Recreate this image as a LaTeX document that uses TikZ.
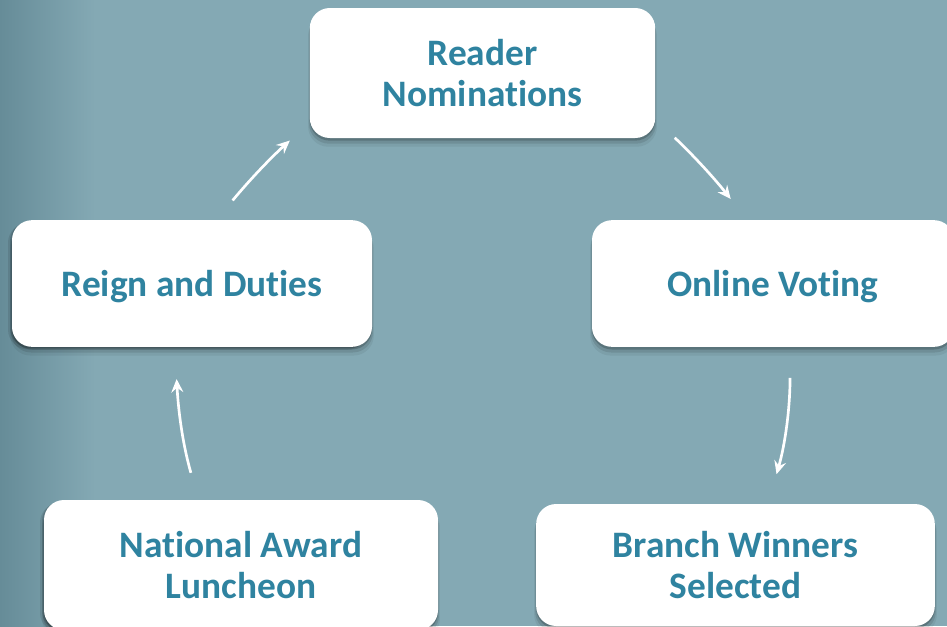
\documentclass[tikz,border=0pt]{standalone}
\usepackage{fontspec}
\setmainfont{Carlito}[Ligatures=NoCommon]
\usetikzlibrary{arrows.meta,shadows}
\definecolor{bgteal}{HTML}{84A9B4}
\definecolor{bgdark}{HTML}{668C98}
\definecolor{labelteal}{HTML}{2F83A0}
\tikzset{
	award/.style={rectangle,fill=white,rounded corners=15pt,align=center,text=labelteal,
		font=\fontsize{28}{30.75}\selectfont\bfseries,
		general shadow={fill=black,opacity=0.06,shadow xshift=0pt,shadow yshift=-6pt,shadow scale=1.01},
		general shadow={fill=black,opacity=0.10,shadow xshift=0pt,shadow yshift=-4pt,shadow scale=1.005},
		general shadow={fill=black,opacity=0.18,shadow xshift=0pt,shadow yshift=-2pt}},
	awardleft/.style={general shadow={fill=black,opacity=0.10,shadow xshift=-3pt,shadow yshift=-2pt},
		general shadow={fill=black,opacity=0.14,shadow xshift=-1.5pt,shadow yshift=-1pt},award},
	flow/.style={-{Stealth[length=10pt,width=9pt,inset=3.5pt]},draw=white,line width=2pt}
}
\begin{document}
\begin{tikzpicture}[x=0.75pt,y=-0.75pt]
	\useasboundingbox (0,0) rectangle (947,626);
	\clip (0,0) rectangle (947,626);
	\fill[bgteal] (0,0) rectangle (947,626);
	\shade[left color=bgdark,right color=bgteal] (0,0) rectangle (95,626);
	\node [award,minimum width=259pt,minimum height=97.5pt] (reader) at (482.5,73) {Reader\\Nominations};
	\node [awardleft,text depth=0pt,minimum width=270pt,minimum height=95pt] (reign) at (192,283.5) {Reign and Duties};
	\node [award,text depth=0pt,minimum width=271.5pt,minimum height=95pt] (voting) at (773,283.5) {Online Voting};
	\node [awardleft,minimum width=295.5pt,minimum height=97.5pt] (luncheon) at (241,565) {National Award\\Luncheon};
	\node [award,minimum width=299pt,minimum height=91.5pt] (branch) at (735.5,565) {Branch Winners\\Selected};
	\draw [flow,shorten <=19pt,shorten >=20pt] (reign.69) to[bend left=4] (reader.196);
	\draw [flow,shorten <=20pt,shorten >=20pt] (reader.-15) to[bend left=4] (voting.112);
	\draw [flow,shorten <=23pt,shorten >=23pt] (voting.-75) to[out=-90,in=74] (branch.62);
	\draw [flow,shorten <=21pt,shorten >=24pt] (luncheon.123) to[out=106,in=-87] (reign.255);
\end{tikzpicture}
\end{document}
